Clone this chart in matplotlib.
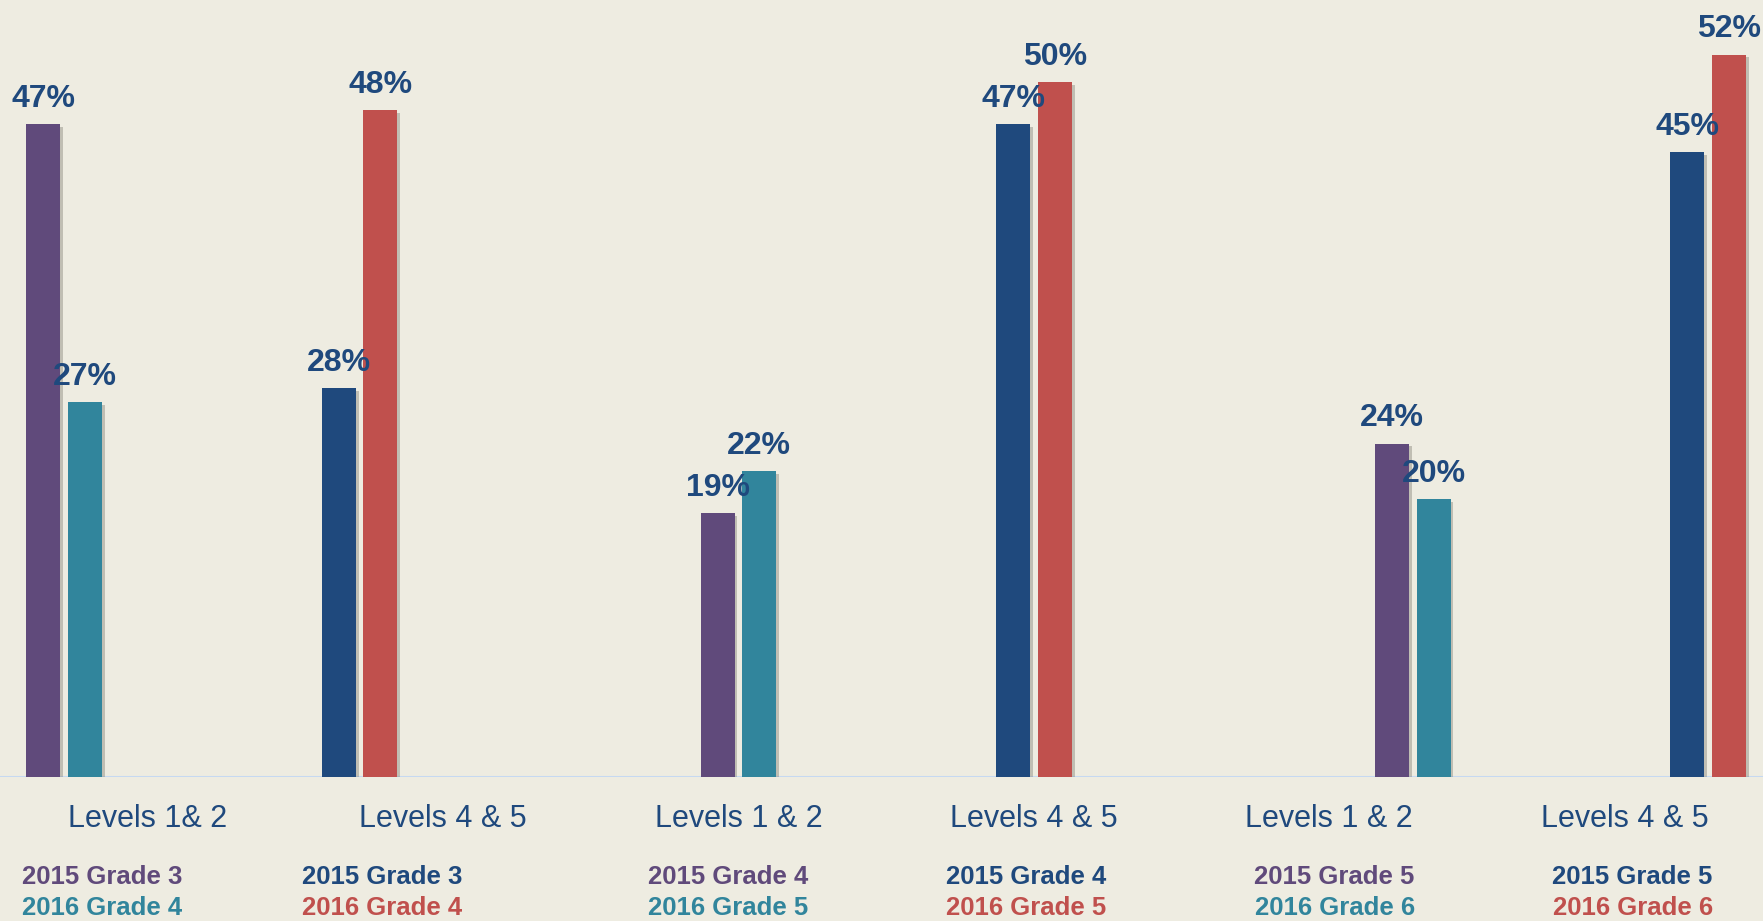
import numpy as np
import matplotlib.pyplot as plt
import matplotlib.patheffects as pe

# data
categories = ["Levels 1& 2", "Levels 4 & 5", "Levels 1 & 2", "Levels 4 & 5", "Levels 1 & 2", "Levels 4 & 5"]
labels_2015 = ["2015 Grade 3", "2015 Grade 3", "2015 Grade 4", "2015 Grade 4", "2015 Grade 5", "2015 Grade 5"]
labels_2016 = ["2016 Grade 4", "2016 Grade 4", "2016 Grade 5", "2016 Grade 5", "2016 Grade 6", "2016 Grade 6"]
values_2015 = [47, 28, 19, 47, 24, 45]
values_2016 = [27, 48, 22, 50, 20, 52]

# colours: levels 1&2 -> purple/teal, levels 4&5 -> navy/red
col_2015 = ["#604a7b", "#1f497d", "#604a7b", "#1f497d", "#604a7b", "#1f497d"]
col_2016 = ["#31859c", "#c0504d", "#31859c", "#c0504d", "#31859c", "#c0504d"]
txt_col = "#1f497d"
bg = "#eeece1"

# layout (six grade slots per category, as in the original clustered chart)
slot_w = 41.75 / 295.4
bar_w = 34 / 295.4
sub_dx = [-0.155, -0.207, -0.034, -0.028, 0.018, 0.027]

fig = plt.figure(figsize=(17.63, 9.21), dpi=100, facecolor=bg)
ax = fig.add_axes([0, 1 - 777 / 921, 1, 777 / 921])
ax.set_facecolor(bg)

shadow = [pe.SimplePatchShadow(offset=(2, -2), shadow_rgbFace="#8a877c", alpha=0.45), pe.Normal()]
x = np.arange(len(categories))
for k in range(len(categories)):
    cohort = k // 2
    for slot, v, c in [(2 * cohort, values_2015[k], col_2015[k]),
                       (2 * cohort + 1, values_2016[k], col_2016[k])]:
        xb = x[k] + (slot - 2.5) * slot_w
        b = ax.bar(xb, v, width=bar_w, color=c, zorder=3)
        b[0].set_path_effects(shadow)
        ax.annotate(f"{v}%", (xb, v), xytext=(0, 12.5), textcoords="offset points",
                    ha="center", va="baseline", fontsize=23, fontweight="bold",
                    color=txt_col, family="Liberation Sans", zorder=4)

ax.set_xlim(-0.5, -0.5 + 1763 / 295.4)
ax.set_ylim(0, 777 / 13.89)
ax.axhline(0, color="#c6d9f1", lw=1.5, zorder=2)
for s in ax.spines.values():
    s.set_visible(False)
ax.set_xticks([])
ax.set_yticks([])

tr = ax.get_xaxis_transform()
for k in range(len(categories)):
    ax.text(x[k], -0.0545, categories[k], transform=tr, ha="center", va="center",
            fontsize=22, color=txt_col, family="Liberation Sans", clip_on=False)
    ax.text(x[k] + sub_dx[k], -0.129, labels_2015[k], transform=tr, ha="center", va="center",
            fontsize=18.5, fontweight="bold", color=col_2015[k], family="Liberation Sans", clip_on=False)
    ax.text(x[k] + sub_dx[k], -0.169, labels_2016[k], transform=tr, ha="center", va="center",
            fontsize=18.5, fontweight="bold", color=col_2016[k], family="Liberation Sans", clip_on=False)

fig.savefig("out.png", dpi=100, facecolor=bg)
